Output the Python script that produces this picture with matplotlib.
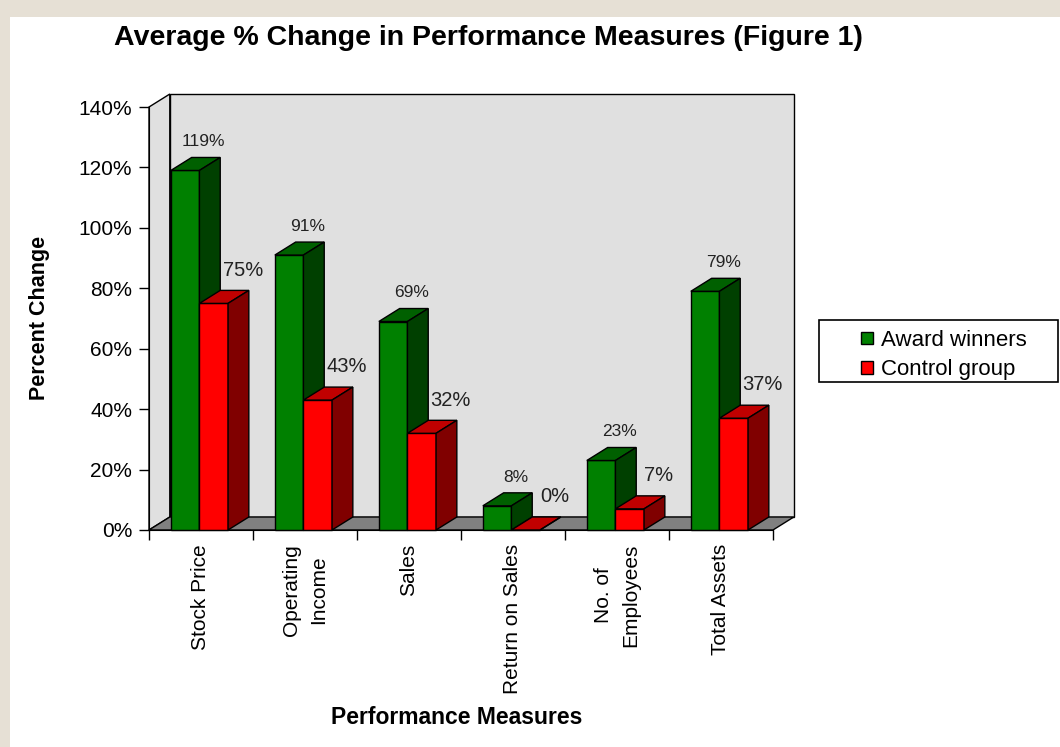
import matplotlib
matplotlib.use("Agg")
import matplotlib.pyplot as plt
from matplotlib.patches import Polygon, Rectangle

categories = ["Stock Price", "Operating\nIncome", "Sales", "Return on Sales",
              "No. of\nEmployees", "Total Assets"]
award_winners = [119, 91, 69, 8, 23, 79]
control_group = [75, 43, 32, 0, 7, 37]
series_names = ["Award winners", "Control group"]
y_ticks = [0, 20, 40, 60, 80, 100, 120, 140]

plt.rcParams["font.family"] = ["Liberation Sans", "DejaVu Sans"]

W, H = 1060, 747
fig = plt.figure(figsize=(W / 100, H / 100), dpi=100)
fig.patch.set_facecolor("#e6e0d5")
fig.add_artist(Rectangle((10 / W, 0), 1, 1 - 17 / H, transform=fig.transFigure,
                         facecolor="white", edgecolor="none", zorder=0))

# axes placed so that x 0..6 -> px 149..773, y 0..140 -> px 530..107
ax = fig.add_axes([97 / W, (H - 560.2) / H, 728 / W, (560.2 - 76.8) / H])
ax.set_xlim(-0.5, 6.5)
ax.set_ylim(-10, 150)
ax.patch.set_visible(False)

DX, DY = 0.2, 4.3   # 3d depth offset
ymax = y_ticks[-1]
n = len(categories)

# walls and floor
ax.add_patch(Polygon([(0, 0), (0, ymax), (DX, ymax + DY), (DX, DY)],
                     facecolor="#e0e0e0", edgecolor="black", lw=1, zorder=1))
ax.add_patch(Rectangle((DX, DY), n, ymax, facecolor="#e0e0e0",
                       edgecolor="black", lw=1, zorder=1))
ax.add_patch(Polygon([(0, 0), (n, 0), (n + DX, DY), (DX, DY)],
                     facecolor="#808080", edgecolor="black", lw=1, zorder=1.5))

w = 0.275
green_x = [i + 0.21 for i in range(n)]
red_x = [i + 0.21 + w for i in range(n)]


def bars3d(xs, vals, front, top, side, z):
    ax.bar(xs, vals, width=w, align="edge", color=front, edgecolor="black",
           lw=1, zorder=z)
    for x0, v in zip(xs, vals):
        ax.add_patch(Polygon([(x0, v), (x0 + w, v), (x0 + w + DX, v + DY), (x0 + DX, v + DY)],
                             facecolor=top, edgecolor="black", lw=1, zorder=z))
        ax.add_patch(Polygon([(x0 + w, 0), (x0 + w + DX, DY), (x0 + w + DX, v + DY), (x0 + w, v)],
                             facecolor=side, edgecolor="black", lw=1, zorder=z))


bars3d(green_x, award_winners, "#008000", "#006000", "#004000", 3)
bars3d(red_x, control_group, "#ff0000", "#c00000", "#800000", 4)

# value labels (red ones sit behind the green bars, as in the original)
for x0, v in zip(green_x, award_winners):
    ax.text(x0 + w / 2 + 0.18, v + 9.5, f"{v}%", ha="center", va="center",
            fontsize=12.5, color="#222222", zorder=5)
for x0, v in zip(red_x, control_group):
    ax.text(x0 + w / 2 + 0.28, v + 11, f"{v}%", ha="center", va="center",
            fontsize=14.5, color="#222222", zorder=2.5)

# axes styling
for s in ["top", "right"]:
    ax.spines[s].set_visible(False)
ax.spines["left"].set_position(("data", 0))
ax.spines["left"].set_bounds(0, ymax)
ax.spines["bottom"].set_position(("data", 0))
ax.spines["bottom"].set_bounds(0, n)
ax.spines["left"].set_zorder(6)
ax.spines["bottom"].set_zorder(6)

ax.set_yticks(y_ticks)
ax.set_yticklabels([f"{t}%" for t in y_ticks])
ax.tick_params(axis="y", length=7, width=1, pad=5, labelsize=15)
ax.set_xticks(range(n + 1))
ax.set_xticklabels([])
ax.tick_params(axis="x", which="major", length=7, width=1)
ax.set_xticks([i + 0.5 for i in range(n)], minor=True)
ax.set_xticklabels(categories, minor=True, rotation=90, fontsize=15,
                   linespacing=1.5)
ax.tick_params(axis="x", which="minor", length=0, pad=10)

fig.text(488 / W, 1 - 38 / H, "Average % Change in Performance Measures (Figure 1)",
         ha="center", va="center", fontsize=20.5, fontweight="bold")
fig.text(40 / W, 1 - 318 / H, "Percent Change", rotation=90, ha="center",
         va="center", fontsize=15.5, fontweight="bold")
fig.text(457 / W, 1 - 718 / H, "Performance Measures", ha="center",
         va="center", fontsize=16.5, fontweight="bold")

# legend
fig.add_artist(Rectangle((819 / W, 1 - 382 / H), 239 / W, 62 / H,
                         transform=fig.transFigure, facecolor="white",
                         edgecolor="black", lw=1.2, zorder=2))
handles = [Rectangle((0, 0), 1, 1, facecolor="#008000", edgecolor="black"),
           Rectangle((0, 0), 1, 1, facecolor="#ff0000", edgecolor="black")]
leg = fig.legend(handles, series_names, loc="center left",
                 bbox_to_anchor=(850 / W, 1 - 355 / H), frameon=False,
                 fontsize=16, handlelength=0.55, handleheight=0.5,
                 handletextpad=0.35, labelspacing=0.38, borderpad=0)
leg.set_zorder(3)

fig.savefig("out.png", dpi=100)
